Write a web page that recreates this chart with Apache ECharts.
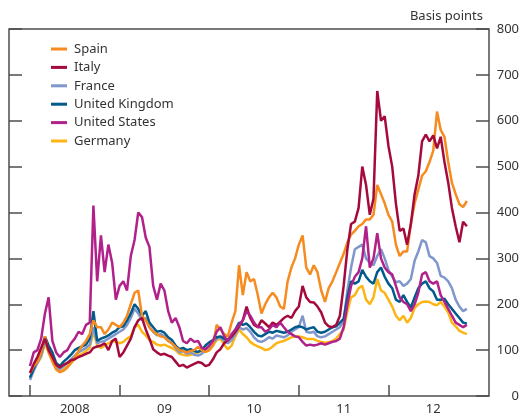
<!DOCTYPE html>
<html lang="en">
<head>
<meta charset="UTF-8">
<title>Bank CDS premia</title>
<style>
  html, body { margin: 0; padding: 0; background: #fff; }
  #chart { width: 522px; height: 416px; }
</style>
</head>
<body>
<div id="chart"></div>
<script src="https://cdn.jsdelivr.net/npm/echarts@6/dist/echarts.min.js"></script>
<script>
// half-monthly observation dates, as decimal years
var dates = [
  2008.000,2008.042,2008.083,2008.125,2008.167,2008.208,2008.250,2008.292,2008.333,2008.375,2008.417,2008.458,
  2008.500,2008.542,2008.583,2008.625,2008.667,2008.708,2008.750,2008.792,2008.833,2008.875,2008.917,2008.958,
  2009.000,2009.042,2009.083,2009.125,2009.167,2009.208,2009.250,2009.292,2009.333,2009.375,2009.417,2009.458,
  2009.500,2009.542,2009.583,2009.625,2009.667,2009.708,2009.750,2009.792,2009.833,2009.875,2009.917,2009.958,
  2010.000,2010.042,2010.083,2010.125,2010.167,2010.208,2010.250,2010.292,2010.333,2010.375,2010.417,2010.458,
  2010.500,2010.542,2010.583,2010.625,2010.667,2010.708,2010.750,2010.792,2010.833,2010.875,2010.917,2010.958,
  2011.000,2011.042,2011.083,2011.125,2011.167,2011.208,2011.250,2011.292,2011.333,2011.375,2011.417,2011.458,
  2011.500,2011.542,2011.583,2011.625,2011.667,2011.708,2011.750,2011.792,2011.833,2011.875,2011.917,2011.958,
  2012.000,2012.042,2012.083,2012.125,2012.167,2012.208,2012.250,2012.292,2012.333,2012.375,2012.417,2012.458,
  2012.500,2012.542,2012.583,2012.625,2012.667,2012.708,2012.750,2012.792,2012.833,2012.875
];

var spain = [
  50,65,75,95,130,95,75,58,52,55,62,72,85,98,110,120,135,165,150,150,135,145,160,155,
  150,160,175,200,225,230,175,165,150,140,135,130,128,120,115,107,100,98,95,98,100,107,100,96,
  100,110,155,145,135,130,160,185,285,220,270,250,255,220,180,200,215,225,215,195,190,250,280,300,
  330,350,280,265,285,270,230,205,235,250,270,290,310,335,352,360,370,375,385,385,395,460,440,420,
  395,380,330,305,315,315,375,420,450,480,490,510,535,620,580,565,510,465,440,418,412,425
];
var italy = [
  50,70,85,105,125,100,85,68,62,68,72,78,80,85,88,92,95,105,108,110,115,100,120,125,
  85,95,110,125,150,165,170,145,125,102,95,90,92,88,85,75,65,68,62,66,70,74,72,65,
  68,80,95,102,115,122,130,140,152,165,195,170,155,150,165,158,150,160,155,162,170,175,170,185,
  195,240,215,205,204,195,182,160,152,150,155,175,240,320,375,380,410,500,460,395,430,665,600,610,
  545,500,420,360,365,330,375,440,480,555,570,555,568,540,565,510,465,410,370,335,380,370
];
var france = [
  35,55,72,88,120,100,85,65,58,65,72,80,88,95,100,105,112,150,115,118,120,125,130,135,
  140,145,155,170,190,180,165,170,150,140,132,135,130,120,115,105,95,98,92,95,90,88,92,100,
  108,115,125,128,120,115,122,135,150,145,148,140,128,120,118,122,128,125,132,130,128,132,140,145,
  150,175,140,138,140,130,128,130,135,140,145,150,165,230,280,320,325,330,300,290,285,305,320,300,
  275,260,248,250,240,245,255,295,315,340,335,305,300,290,262,258,250,235,210,195,185,190
];
var uk = [
  40,60,80,95,130,110,95,72,65,75,82,90,100,105,108,112,125,185,120,125,128,132,138,142,
  150,152,165,180,200,190,175,185,160,150,140,142,138,128,122,110,102,105,100,102,98,96,100,110,
  117,122,128,130,125,122,130,145,160,155,158,150,140,132,130,135,140,138,142,140,138,140,145,150,
  152,150,145,148,150,140,138,140,145,150,152,160,168,215,250,245,250,275,260,250,245,270,280,260,
  245,235,210,205,220,205,193,215,235,245,250,235,228,210,210,212,200,190,180,170,160,158
];
var us = [
  65,95,100,125,180,215,120,95,85,95,100,115,125,140,135,155,160,415,250,350,270,330,290,210,
  240,250,230,305,340,400,390,345,325,240,210,245,230,185,160,170,150,120,115,125,118,120,105,102,
  110,120,140,150,130,120,135,145,155,165,185,175,160,150,150,140,145,155,150,160,150,140,135,130,
  128,118,110,112,110,112,115,112,115,118,120,125,150,200,240,260,270,300,370,280,300,355,300,280,
  270,265,240,215,205,200,185,200,225,265,270,250,245,250,220,205,190,175,160,155,150,155
];
var germany = [
  40,58,72,85,115,95,80,62,52,58,65,72,80,88,92,98,105,140,110,105,110,115,120,118,
  115,118,125,130,150,155,140,132,122,118,112,110,112,108,105,100,92,90,88,90,92,95,98,96,
  100,110,122,125,112,102,110,130,145,135,128,118,112,108,105,100,102,108,115,118,120,124,128,130,
  130,128,125,124,124,120,118,116,117,120,125,135,145,185,215,220,235,240,210,200,215,255,230,225,
  210,195,175,165,175,160,170,192,200,205,206,205,200,198,205,195,182,160,152,142,138,135
];

var yearTicks = [2008, 2009, 2010, 2011, 2012];
var yearLabelPos = [2008.5, 2009.5, 2010.5, 2011.5, 2012.5];
var yearLabels = ['2008', '09', '10', '11', '12'];

var legendNames = ['Spain', 'Italy', 'France', 'United Kingdom', 'United States', 'Germany'];

function pairs(vals) {
  var out = [];
  for (var i = 0; i < vals.length; i++) out.push([dates[i], vals[i]]);
  return out;
}

function line(name, vals, color) {
  return {
    name: name,
    type: 'line',
    data: pairs(vals),
    showSymbol: false,
    symbol: 'none',
    color: color,
    lineStyle: { width: 2.5, color: color },
    emphasis: { disabled: true }
  };
}

var axisColor = '#4d4d4d';
var font = 'Noto Sans';

var chart = echarts.init(document.getElementById('chart'));
chart.setOption({
  animation: false,
  textStyle: { fontFamily: font },
  title: {
    text: 'Basis points',
    right: 34,
    top: 5,
    textStyle: { fontSize: 13, fontWeight: 'normal', color: '#333', fontFamily: font }
  },
  legend: {
    data: legendNames,
    orient: 'vertical',
    left: 46,
    top: 36,
    icon: 'rect',
    itemWidth: 16,
    itemHeight: 3,
    itemGap: 2.4,
    textStyle: { fontSize: 13, color: '#333', lineHeight: 16, padding: [0, 0, 0, 2], fontFamily: font }
  },
  grid: {
    left: 9, right: 32, top: 29, bottom: 19,
    show: true, borderColor: axisColor, borderWidth: 1.5, backgroundColor: 'transparent'
  },
  xAxis: {
    type: 'value',
    min: 2007.766,
    max: 2013.122,
    axisLine: { show: false },
    splitLine: { show: false },
    axisTick: {
      show: true, inside: true, length: 11,
      customValues: yearTicks,
      lineStyle: { color: axisColor, width: 1.5 }
    },
    axisLabel: {
      customValues: yearLabelPos,
      margin: 7,
      fontSize: 13,
      color: '#333',
      formatter: function (v) {
        var i = yearLabelPos.indexOf(v);
        return i >= 0 ? yearLabels[i] : '';
      }
    }
  },
  yAxis: [{
    type: 'value',
    position: 'right',
    min: 0, max: 800, interval: 100,
    axisLine: { show: false },
    splitLine: { show: false },
    axisTick: { show: true, inside: true, length: 13, lineStyle: { color: axisColor, width: 1.5 } },
    axisLabel: { align: 'right', margin: 30, fontSize: 13, color: '#333' }
  }, {
    type: 'value',
    position: 'left',
    min: 0, max: 800, interval: 100,
    axisLine: { show: false },
    splitLine: { show: false },
    axisTick: { show: true, inside: true, length: 13, lineStyle: { color: axisColor, width: 1.5 } },
    axisLabel: { show: false }
  }],
  series: [
    line('Germany', germany, '#fdb515'),
    line('France', france, '#7f97cb'),
    line('United Kingdom', uk, '#005a8c'),
    line('Spain', spain, '#f68b1f'),
    line('Italy', italy, '#a50a3c'),
    line('United States', us, '#b0218a')
  ]
});
</script>
</body>
</html>
